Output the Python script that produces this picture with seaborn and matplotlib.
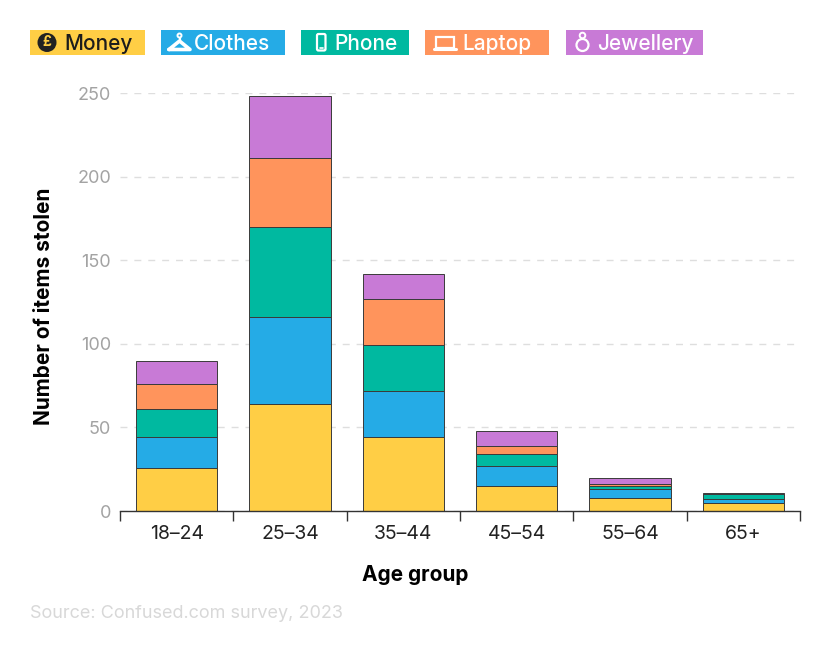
"""
Items stolen per age group - stacked bar chart
"""

import numpy as np
import pandas as pd
import matplotlib.pyplot as plt
from matplotlib.patches import Circle, FancyBboxPatch, Rectangle
import seaborn as sns

# Chart data
AGE_GROUPS = ['18–24', '25–34', '35–44', '45–54', '55–64', '65+']
MONEY = [26, 64, 44, 15, 8, 5]
CLOTHES = [18, 52, 28, 12, 5, 2]
PHONE = [17, 54, 27, 7, 2, 3]
LAPTOP = [15, 41, 28, 5, 1, 0]
JEWELLERY = [14, 37, 15, 9, 4, 1]

ITEMS = ['Money', 'Clothes', 'Phone', 'Laptop', 'Jewellery']
SERIES = [MONEY, CLOTHES, PHONE, LAPTOP, JEWELLERY]
COLORS = ['#FFCE45', '#25ABE6', '#00B9A0', '#FF945C', '#C87AD6']
Y_TICKS = [0, 50, 100, 150, 200, 250]

# Legend boxes in pixels: left, right, text start
LEGEND_BOXES = [(30, 145, 64), (161, 285, 194), (301, 409, 334), (425, 549, 462), (566, 703, 597)]

sns.set_style("white")
plt.rcParams['font.family'] = ['Inter', 'DejaVu Sans']

df = pd.DataFrame({'age': AGE_GROUPS})
for name, values in zip(ITEMS, SERIES):
    df[name] = values

fig = plt.figure(figsize=(8.3, 6.5), dpi=100)
ax = fig.add_axes([120 / 830, 139 / 650, 680 / 830, 418 / 650])

# Stack the bars
bottom = np.zeros(len(AGE_GROUPS))
for name, color in zip(ITEMS, COLORS):
    sns.barplot(data=df, x='age', y=name, bottom=bottom, color=color, width=0.72,
                saturation=1, edgecolor='#3a3a3a', linewidth=0.7, ax=ax, zorder=3)
    bottom = bottom + df[name].values

ax.set_xlim(-0.5, 5.5)
ax.set_ylim(0, 250)
ax.set_yticks(Y_TICKS)
ax.yaxis.grid(True, color='#dedede', linestyle=(0, (5, 5)), linewidth=1)
ax.xaxis.grid(False)
ax.set_axisbelow(True)

for side in ['top', 'right', 'left']:
    ax.spines[side].set_visible(False)
ax.spines['bottom'].set_color('#333333')
ax.spines['bottom'].set_linewidth(1)
ax.spines['bottom'].set_zorder(5)

ax.tick_params(axis='y', length=0, labelsize=13, labelcolor='#a3a3a3', pad=6.5)
ax.tick_params(axis='x', which='major', length=0, labelsize=14, labelcolor='#222222', pad=10)
ax.set_xticks(np.arange(-0.5, 6, 1), minor=True)
ax.tick_params(axis='x', which='minor', length=7, width=1, color='#333333', bottom=True)

ax.set_xlabel('Age group', fontsize=15, fontweight='bold', color='black', x=0.434, labelpad=16)
ax.set_ylabel('Number of items stolen', fontsize=15, fontweight='bold', color='black', y=0.49, labelpad=17)

fig.text(30 / 830, 1 - 614 / 650, 'Source: Confused.com survey, 2023', fontsize=13,
         color='#d8d8d8', va='center', ha='left')

# Legend overlay, drawn in pixel coordinates
lg = fig.add_axes([0, 0, 1, 1])
lg.set_xlim(0, 830)
lg.set_ylim(650, 0)
lg.axis('off')
lg.patch.set_alpha(0)

for (left, right, text_x), name, color in zip(LEGEND_BOXES, ITEMS, COLORS):
    lg.add_patch(Rectangle((left, 30), right - left, 25, facecolor=color, edgecolor='none'))
    text_color = '#1c1c1c' if name == 'Money' else 'white'
    lg.text(text_x, 49.5, name, fontsize=15, fontweight=500, color=text_color, va='baseline', ha='left')

# Coin
lg.add_patch(Circle((47, 42.5), 9.5, facecolor='#222222', edgecolor='none'))
lg.text(47, 42.5, '£', fontsize=10, fontweight='bold', color='#FFCE45', va='center', ha='center')
# Hanger
lg.plot([169, 179.5, 190, 169], [49.5, 41, 49.5, 49.5], color='white', lw=2.6, solid_joinstyle='round')
lg.plot([179.5, 179.5], [41, 37.5], color='white', lw=1.6)
lg.add_patch(Circle((179.5, 35.5), 2, facecolor='none', edgecolor='white', lw=1.4))
# Phone
lg.add_patch(FancyBboxPatch((317, 34), 8.5, 16.5, boxstyle='round,pad=0,rounding_size=1.5',
                            facecolor='none', edgecolor='white', lw=1.6))
lg.plot([320, 322.5], [48, 48], color='white', lw=1.2)
# Laptop
lg.add_patch(Rectangle((436, 37), 18, 11, facecolor='none', edgecolor='white', lw=1.6))
lg.plot([434, 456], [48.5, 48.5], color='white', lw=2.2, solid_capstyle='round')
# Ring
lg.add_patch(Circle((582.5, 45), 6, facecolor='none', edgecolor='white', lw=1.6))
lg.add_patch(Circle((582.5, 35.5), 2.8, facecolor='none', edgecolor='white', lw=1.4))

plt.savefig('out.png', dpi=100)
